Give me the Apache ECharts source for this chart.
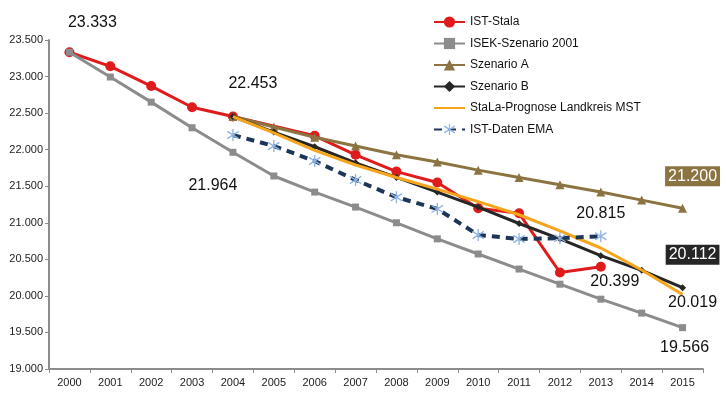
<!DOCTYPE html>
<html><head><meta charset="utf-8">
<script src="https://cdn.jsdelivr.net/npm/echarts@6/dist/echarts.min.js"></script>
<style>html,body{margin:0;padding:0;background:#fff}#c{width:726px;height:396px}</style>
</head><body><div id="c"></div>
<script>
var years = ['2000','2001','2002','2003','2004','2005','2006','2007','2008','2009','2010','2011','2012','2013','2014','2015'];
var istStala = [23333,23140,22870,22580,22453,null,22190,21930,21700,21550,21200,21130,20320,20399,null,null];
var isek2001 = [23333,22994,22650,22300,21964,21640,21420,21215,21000,20780,20573,20367,20160,19955,19765,19566];
var szenarioA = [null,null,null,null,22453,22310,22170,22050,21930,21830,21720,21620,21520,21420,21310,21200];
var szenarioB = [null,null,null,null,22453,22240,22040,21820,21620,21420,21215,20990,20780,20550,20350,20112];
var stalaPrognose = [null,null,null,null,22453,22230,21990,21790,21620,21460,21290,21110,20890,20655,20354,20019];
var istEma = [null,null,null,null,22200,22050,21845,21585,21350,21190,20833,20778,20790,20815,null,null];
var yTicks = {min:19000, max:23500, step:500};

function fmt(v){ return String(Math.round(v)).replace(/\B(?=(\d{3})+(?!\d))/g,'.'); }
var FONT = 'Liberation Sans';
function lab2(arr, specs){
  var out = arr.slice();
  specs.forEach(function(s){
    var v = arr[s[0]];
    var l = {show:true, formatter:fmt(v), offset:s[1], fontSize:16, color:'#111', fontFamily:FONT, position:'inside'};
    if(s[2]) for(var k in s[2]) l[k]=s[2][k];
    out[s[0]] = {value:v, label:l};
  });
  return out;
}
var star = 'path://M9 0L11 0L11 20L9 20Z M1 5L2 3L19 15L18 17Z M1 15L18 3L19 5L2 17Z';

var chart = echarts.init(document.getElementById('c'));
chart.setOption({
  animation:false,
  backgroundColor:'#fff',
  textStyle:{fontFamily:FONT},
  grid:{left:49,right:23,top:40,bottom:27},
  legend:{
    orient:'vertical', left:428, top:11, itemWidth:31, itemHeight:14, itemGap:9.5,
    textStyle:{fontSize:12,color:'#111',fontFamily:FONT},
    data:['IST-Stala','ISEK-Szenario 2001','Szenario A','Szenario B',
      {name:'StaLa-Prognose Landkreis MST', itemStyle:{opacity:0}},'IST-Daten EMA']
  },
  xAxis:{
    type:'category', data:years, boundaryGap:true,
    axisLine:{lineStyle:{color:'#8c8c8c',width:2}},
    axisTick:{show:true, alignWithLabel:false, length:4, lineStyle:{color:'#8c8c8c'}},
    axisLabel:{fontSize:11,color:'#222',margin:8,fontFamily:FONT}
  },
  yAxis:{
    type:'value', min:yTicks.min, max:yTicks.max, interval:yTicks.step,
    axisLine:{show:true,lineStyle:{color:'#8c8c8c',width:2}},
    axisTick:{show:true,length:4,lineStyle:{color:'#8c8c8c'}},
    splitLine:{show:false},
    axisLabel:{fontSize:11,color:'#222',margin:6,fontFamily:FONT,formatter:function(v){return fmt(v);}}
  },
  series:[
    {name:'IST-Stala', type:'line', data:lab2(istStala,[[0,[23,-30]],[4,[20,-33]],[13,[14,15]]]),
     color:'#e01b1b', lineStyle:{width:3,color:'#e01b1b'}, symbol:'circle', symbolSize:10,
     itemStyle:{color:'#e01b1b'}, connectNulls:true, z:2},
    {name:'ISEK-Szenario 2001', type:'line', data:lab2(isek2001,[[4,[-20,33]],[15,[2,20]]]),
     color:'#8c8c8c', lineStyle:{width:3,color:'#8c8c8c'}, symbol:'rect', symbolSize:7,
     itemStyle:{color:'#8c8c8c'}, z:3},
    {name:'Szenario A', type:'line', data:lab2(szenarioA,[[15,[10,-32],{color:'#fff',backgroundColor:'#8b7442',padding:[3,3,1,3]}]]),
     color:'#8b7442', lineStyle:{width:3,color:'#8b7442'}, symbol:'triangle', symbolSize:9,
     itemStyle:{color:'#8b7442'}, z:4},
    {name:'Szenario B', type:'line', data:lab2(szenarioB,[[15,[10,-33],{color:'#fff',backgroundColor:'#262626',padding:[3,3,1,3]}]]),
     color:'#262626', lineStyle:{width:3,color:'#262626'}, symbol:'diamond', symbolSize:7,
     itemStyle:{color:'#262626'}, z:5},
    {name:'StaLa-Prognose Landkreis MST', type:'line', data:lab2(stalaPrognose,[[15,[10,8]]]),
     color:'#f7a51c', lineStyle:{width:3,color:'#f7a51c'}, symbol:'circle', symbolSize:1, showSymbol:true,
     itemStyle:{color:'transparent',borderWidth:0}, z:6},
    {name:'IST-Daten EMA', type:'line', data:lab2(istEma,[[13,[0,-23]]]),
     color:'#1d3557', lineStyle:{width:4,color:'#1d3557',type:[8,6]}, symbol:star, symbolSize:12,
     itemStyle:{color:'#8fb4e3'}, z:7}
  ]
});
</script></body></html>
